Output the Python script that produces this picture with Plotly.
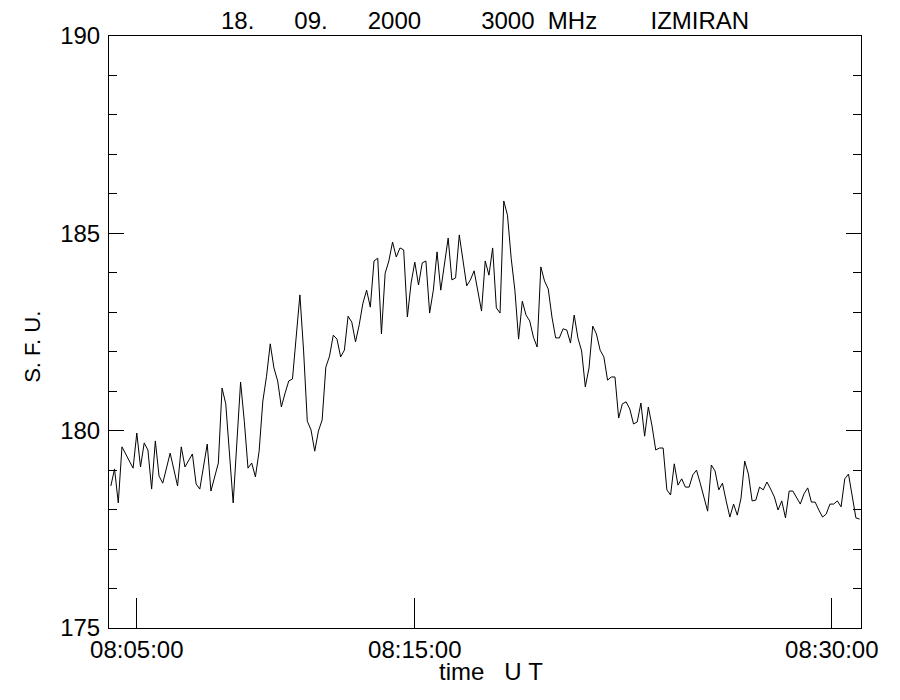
import pandas as pd
import plotly.graph_objects as go

# seconds after 08:04:00 UT (vertex times)
secs = [
    4, 12, 20, 28, 52, 60, 68, 76, 84, 92,
    100, 108, 116, 132, 148, 156, 164, 180, 188, 196,
    212, 220, 236, 244, 252, 268, 284, 292, 300, 308,
    316, 324, 332, 340, 348, 356, 364, 372, 380, 388,
    396, 404, 412, 420, 428, 436, 444, 452, 460, 468,
    476, 484, 492, 500, 508, 516, 524, 532, 540, 548,
    556, 564, 572, 580, 588, 596, 604, 612, 620, 628,
    636, 644, 652, 660, 668, 676, 684, 692, 700, 708,
    716, 732, 740, 748, 756, 772, 780, 788, 804, 812,
    820, 828, 836, 844, 852, 860, 868, 876, 884, 892,
    900, 908, 916, 924, 932, 940, 948, 956, 964, 972,
    980, 988, 996, 1004, 1012, 1020, 1028, 1036, 1044, 1052,
    1060, 1068, 1076, 1084, 1092, 1100, 1108, 1116, 1124, 1132,
    1140, 1148, 1156, 1164, 1172, 1180, 1188, 1196, 1204, 1212,
    1220, 1228, 1236, 1244, 1252, 1260, 1268, 1276, 1284, 1292,
    1300, 1308, 1316, 1324, 1332, 1340, 1348, 1356, 1364, 1372,
    1380, 1388, 1396, 1404, 1412, 1420, 1428, 1436, 1444, 1452,
    1460, 1468, 1476, 1484, 1492, 1500, 1508, 1516, 1524, 1532,
    1540, 1548, 1556, 1564, 1572, 1580, 1588, 1596, 1604, 1612,
    1620,
]

# flux in solar flux units
sfu = [
    178.60, 179.03, 178.17, 179.59, 179.05, 179.94, 179.08, 179.69, 179.51, 178.52,
    179.74, 178.85, 178.67, 179.43, 178.60, 179.59, 179.08, 179.41, 178.65, 178.52,
    179.66, 178.47, 179.18, 181.08, 180.68, 178.17, 181.23, 180.24, 179.05, 179.18,
    178.83, 179.48, 180.75, 181.38, 182.20, 181.59, 181.26, 180.60, 180.95, 181.26,
    181.31, 182.35, 183.44, 182.02, 180.24, 180.02, 179.48, 179.99, 180.27, 181.61,
    181.89, 182.42, 182.32, 181.87, 182.04, 182.90, 182.75, 182.25, 182.68, 183.23,
    183.56, 183.13, 184.30, 184.37, 182.45, 183.99, 184.30, 184.78, 184.40, 184.63,
    184.58, 182.88, 183.74, 184.27, 183.69, 184.25, 184.30, 182.98, 183.56, 184.53,
    183.56, 184.88, 183.82, 183.87, 184.96, 183.67, 183.82, 184.05, 183.03, 184.30,
    183.94, 184.63, 183.11, 182.98, 185.82, 185.46, 184.37, 183.56, 182.32, 183.28,
    182.93, 182.78, 182.37, 182.12, 184.15, 183.79, 183.59, 182.88, 182.35, 182.35,
    182.58, 182.55, 182.22, 182.93, 182.35, 182.02, 181.11, 181.59, 182.65, 182.45,
    182.04, 181.87, 181.28, 181.36, 181.36, 180.32, 180.68, 180.73, 180.55, 180.17,
    180.22, 180.70, 179.86, 180.60, 180.12, 179.51, 179.56, 179.56, 178.50, 178.37,
    179.16, 178.62, 178.78, 178.57, 178.57, 178.88, 179.00, 178.67, 178.34, 177.96,
    179.13, 178.98, 178.50, 178.67, 178.22, 177.81, 178.14, 177.86, 178.29, 179.23,
    178.90, 178.22, 178.24, 178.57, 178.50, 178.70, 178.52, 178.32, 177.99, 178.22,
    177.79, 178.47, 178.47, 178.29, 178.14, 178.40, 178.55, 178.19, 178.19, 177.99,
    177.81, 177.89, 178.14, 178.14, 178.22, 178.07, 178.78, 178.90, 178.34, 177.79,
    177.76,
]

x_ticks = ["2000-09-18 08:05:00", "2000-09-18 08:15:00", "2000-09-18 08:30:00"]
x_labels = ["08:05:00", "08:15:00", "08:30:00"]
y_ticks = [175, 180, 185, 190]
x_range = ["2000-09-18 08:04:00", "2000-09-18 08:31:03"]
y_range = [175, 190]

start = pd.Timestamp("2000-09-18 08:04:00")
times = start + pd.to_timedelta(secs, unit="s")

FONT = "Liberation Sans, Arial, sans-serif"
NB = "\u00a0"

fig = go.Figure()
fig.add_trace(go.Scatter(x=times, y=sfu, mode="lines",
                         line=dict(color="black", width=1), showlegend=False))

fig.update_layout(
    width=900, height=700,
    margin=dict(l=101, r=47, t=28, b=80),
    plot_bgcolor="white", paper_bgcolor="white",
    font=dict(family=FONT, size=24, color="black"),
    xaxis=dict(
        type="date", range=x_range,
        tickmode="array", tickvals=x_ticks, ticktext=x_labels,
        ticks="inside", ticklen=30, tickwidth=1, tickcolor="black",
        showline=True, linecolor="black", linewidth=1, mirror=True,
        showgrid=False, zeroline=False,
        tickfont=dict(family=FONT, size=24, color="black"),
        ticklabelstandoff=0,
    ),
    yaxis=dict(
        range=y_range,
        tickmode="array", tickvals=y_ticks,
        ticks="inside", ticklen=15, tickwidth=1, tickcolor="black",
        minor=dict(dtick=1, ticks="inside", ticklen=8, tickwidth=1,
                   tickcolor="black", showgrid=False),
        showline=True, linecolor="black", linewidth=1, mirror="ticks",
        showgrid=False, zeroline=False,
        tickfont=dict(family=FONT, size=24, color="black"),
        ticklabelstandoff=3,
    ),
    annotations=[
        dict(text=f"18.{NB*6}09.{NB*6}2000{NB*9}3000{NB*2}MHz{NB*8}IZMIRAN",
             xref="paper", yref="paper", x=0.5, y=1.026,
             xanchor="center", yanchor="middle", showarrow=False,
             font=dict(family=FONT, size=24, color="black")),
        dict(text=f"time{NB*3}U{NB}T",
             xref="paper", yref="paper", x=0.508, y=-0.073,
             xanchor="center", yanchor="middle", showarrow=False,
             font=dict(family=FONT, size=24, color="black")),
        dict(text=f"S.{NB}F.{NB}U.",
             xref="paper", yref="paper", x=-0.101, y=0.475,
             xanchor="center", yanchor="middle", showarrow=False,
             textangle=-90,
             font=dict(family=FONT, size=22, color="black")),
    ],
)

fig.write_html("out.html")
